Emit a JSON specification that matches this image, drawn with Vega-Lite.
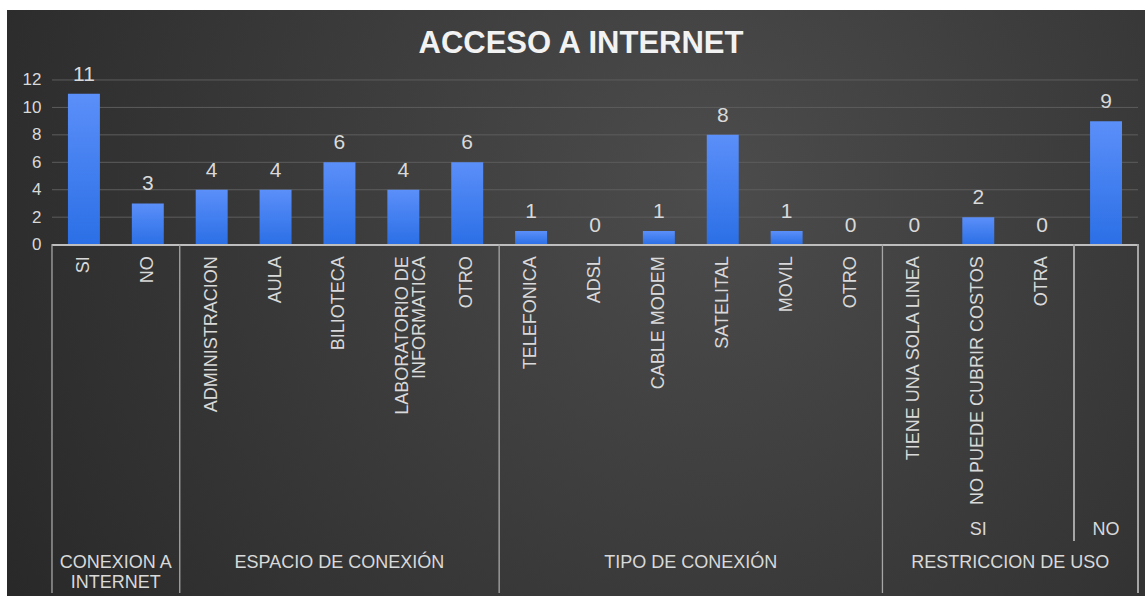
{
  "$schema": "https://vega.github.io/schema/vega-lite/v6.json",
  "width": 1138,
  "height": 586,
  "autosize": {"type": "none"},
  "padding": {"left": 7, "top": 10, "right": 0, "bottom": 0},
  "background": "#ffffff",
  "title": {
    "text": "ACCESO A INTERNET",
    "anchor": "middle",
    "frame": "group",
    "orient": "top",
    "offset": -74,
    "baseline": "alphabetic",
    "dx": 5,
    "font": "Liberation Sans",
    "fontSize": 31,
    "fontWeight": "bold",
    "color": "#f2f2f2"
  },
  "config": {
    "view": {
      "stroke": null,
      "fill": {
        "gradient": "radial",
        "x1": 0.62, "y1": 0.4, "r1": 0,
        "x2": 0.62, "y2": 0.4, "r2": 0.75,
        "stops": [
          {"offset": 0, "color": "#4c4c4c"},
          {"offset": 1, "color": "#272727"}
        ]
      }
    },
    "axisY": {
      "grid": false,
      "domain": false,
      "ticks": false,
      "tickSize": 0,
      "labelPadding": 0,
      "offset": -34,
      "labelFont": "Liberation Sans",
      "labelFontSize": 17,
      "labelColor": "#d9d9d9"
    },
    "text": {"font": "Liberation Sans", "color": "#d9d9d9"}
  },
  "datasets": {
    "main": [
      {"n": 1, "label": "SI", "value": 11},
      {"n": 2, "label": "NO", "value": 3},
      {"n": 3, "label": "ADMINISTRACION", "value": 4},
      {"n": 4, "label": "AULA", "value": 4},
      {"n": 5, "label": "BILIOTECA", "value": 6},
      {"n": 6, "label": ["LABORATORIO DE", "INFORMATICA"], "value": 4},
      {"n": 7, "label": "OTRO", "value": 6},
      {"n": 8, "label": "TELEFONICA", "value": 1},
      {"n": 9, "label": "ADSL", "value": 0},
      {"n": 10, "label": "CABLE MODEM", "value": 1},
      {"n": 11, "label": "SATELITAL", "value": 8},
      {"n": 12, "label": "MOVIL", "value": 1},
      {"n": 13, "label": "OTRO", "value": 0},
      {"n": 14, "label": "TIENE UNA SOLA LINEA", "value": 0},
      {"n": 15, "label": "NO PUEDE CUBRIR COSTOS", "value": 2},
      {"n": 16, "label": "OTRA", "value": 0},
      {"n": 17, "label": "", "value": 9}
    ],
    "grid": [{"g": 2}, {"g": 4}, {"g": 6}, {"g": 8}, {"g": 10}, {"g": 12}],
    "separators": [{"at": 1}, {"at": 3}, {"at": 8}, {"at": 14}],
    "subgroups": [{"at": 15, "label": "SI"}, {"at": 17, "label": "NO"}],
    "groups": [
      {"at": 1, "label": ["CONEXION A", "INTERNET"], "pos": "edge"},
      {"at": 5, "label": "ESPACIO DE CONEXIÓN", "pos": "center"},
      {"at": 10, "label": "TIPO DE CONEXIÓN", "pos": "edge"},
      {"at": 15, "label": "RESTRICCION DE USO", "pos": "edge"}
    ]
  },
  "layer": [
    {
      "data": {"name": "grid"},
      "mark": {"type": "rule", "color": "#5d5d5d", "strokeWidth": 1},
      "encoding": {
        "y": {"field": "g", "type": "quantitative", "title": null},
        "x": {"datum": 1, "type": "ordinal", "bandPosition": 0, "axis": null},
        "x2": {"datum": 17, "bandPosition": 1}
      }
    },
    {
      "data": {"name": "main"},
      "mark": {
        "type": "bar",
        "width": {"band": 0.5},
        "color": {
          "gradient": "linear",
          "x1": 0, "y1": 0, "x2": 0, "y2": 1,
          "stops": [
            {"offset": 0, "color": "#5b8ff9"},
            {"offset": 1, "color": "#2b6fe6"}
          ]
        }
      },
      "encoding": {
        "x": {
          "field": "n",
          "type": "ordinal",
          "axis": null,
          "scale": {"paddingInner": 0, "paddingOuter": 0.407, "align": 0.865}
        },
        "y": {
          "field": "value",
          "type": "quantitative",
          "title": null,
          "axis": {"values": [0, 2, 4, 6, 8, 10, 12]},
          "scale": {"domain": [-25.61, 17.1], "nice": false, "zero": false}
        }
      }
    },
    {
      "data": {"name": "main"},
      "mark": {"type": "text", "fontSize": 21, "baseline": "alphabetic", "dy": -13},
      "encoding": {
        "x": {"field": "n", "type": "ordinal", "axis": null},
        "y": {"field": "value", "type": "quantitative", "title": null},
        "text": {"field": "value", "type": "quantitative"}
      }
    },
    {
      "data": {"name": "main"},
      "mark": {"type": "rule", "color": "#bfbfbf", "strokeWidth": 1.3},
      "encoding": {
        "y": {"datum": 0, "type": "quantitative", "title": null},
        "x": {"datum": 1, "type": "ordinal", "bandPosition": 0, "axis": null},
        "x2": {"datum": 17, "bandPosition": 1}
      }
    },
    {
      "data": {"name": "separators"},
      "mark": {"type": "rule", "color": "#a6a6a6", "strokeWidth": 1.3},
      "encoding": {
        "x": {"field": "at", "type": "ordinal", "bandPosition": 0, "axis": null},
        "y": {"datum": 0, "type": "quantitative", "title": null},
        "y2": {"datum": -25.4}
      }
    },
    {
      "data": {"name": "main"},
      "mark": {"type": "rule", "color": "#a6a6a6", "strokeWidth": 1.3},
      "encoding": {
        "x": {"datum": 17, "type": "ordinal", "bandPosition": 1, "axis": null},
        "y": {"datum": 0, "type": "quantitative", "title": null},
        "y2": {"datum": -25.4}
      }
    },
    {
      "data": {"name": "main"},
      "mark": {"type": "rule", "color": "#a6a6a6", "strokeWidth": 1.3},
      "encoding": {
        "x": {"datum": 17, "type": "ordinal", "bandPosition": 0, "axis": null},
        "y": {"datum": 0, "type": "quantitative", "title": null},
        "y2": {"datum": -21.6}
      }
    },
    {
      "data": {"name": "main"},
      "mark": {"type": "text", "fontSize": 18, "angle": 270, "align": "right", "baseline": "middle", "lineHeight": 17},
      "encoding": {
        "x": {"field": "n", "type": "ordinal", "axis": null},
        "y": {"datum": -0.85, "type": "quantitative", "title": null},
        "text": {"field": "label"}
      }
    },
    {
      "data": {"name": "subgroups"},
      "mark": {"type": "text", "fontSize": 18, "align": "center", "baseline": "middle"},
      "encoding": {
        "x": {"field": "at", "type": "ordinal", "axis": null},
        "y": {"datum": -20.77, "type": "quantitative", "title": null},
        "text": {"field": "label"}
      }
    },
    {
      "data": {"name": "groups"},
      "transform": [{"filter": "datum.pos === 'edge'"}],
      "mark": {"type": "text", "fontSize": 18, "align": "center", "baseline": "top", "lineHeight": 20},
      "encoding": {
        "x": {"field": "at", "type": "ordinal", "bandPosition": 1, "axis": null},
        "y": {"datum": -22.55, "type": "quantitative", "title": null},
        "text": {"field": "label"}
      }
    },
    {
      "data": {"name": "groups"},
      "transform": [{"filter": "datum.pos === 'center'"}],
      "mark": {"type": "text", "fontSize": 18, "align": "center", "baseline": "top", "lineHeight": 20},
      "encoding": {
        "x": {"field": "at", "type": "ordinal", "bandPosition": 0.5, "axis": null},
        "y": {"datum": -22.55, "type": "quantitative", "title": null},
        "text": {"field": "label"}
      }
    }
  ]
}
